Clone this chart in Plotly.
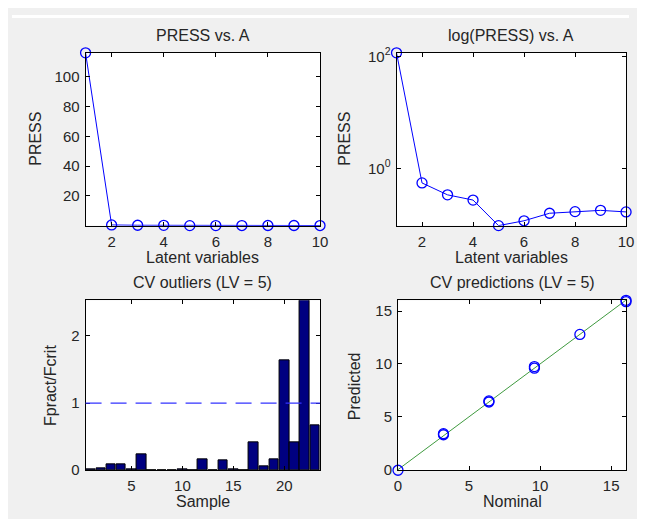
import plotly.graph_objs as go
import numpy as np

# --- data ---
latent_vars = [1, 2, 3, 4, 5, 6, 7, 8, 9, 10]
press = [116, 0.55, 0.337, 0.272, 0.095, 0.116, 0.158, 0.169, 0.178, 0.167]

samples = list(range(1, 24))
fratio = [0.01, 0.033, 0.09, 0.09, 0.01, 0.24, 0.005, 0.005, 0.005, 0.01, 0.005, 0.167,
          0.005, 0.148, 0.015, 0.005, 0.42, 0.057, 0.167, 1.643, 0.42, 2.53, 0.667]
fcrit_limit = 1.0

nominal = [0, 3.2, 3.2, 6.4, 6.4, 9.6, 9.6, 12.8, 16.05, 16.05]
predicted = [-0.06, 3.3, 3.4, 6.4, 6.5, 9.6, 9.75, 12.8, 16.02, 15.9]

# --- styling ---
# the page body keeps an 8px margin round the figure, so figure px = screen px - 8
OFF = 8
W, H = 629, 511
FONT = 'Liberation Sans, Arial, sans-serif'
TXT = '#262626'
BLUE = '#0000ff'
FS_TICK = 15
FS_TITLE = 16


def px_x(x):
    return (x - OFF) / W


def px_y(y):
    return 1 - (y - OFF) / H


def axis_style(**kw):
    d = dict(showline=True, linecolor='black', linewidth=1, mirror='allticks',
             ticks='inside', ticklen=4, tickcolor='black', showgrid=False,
             zeroline=False, ticklabelstandoff=2,
             tickfont=dict(family=FONT, size=FS_TICK, color=TXT))
    d.update(kw)
    return d


marker = dict(symbol='circle-open', size=10, color=BLUE, line=dict(width=1.3, color=BLUE))

trace_press = go.Scatter(x=latent_vars, y=press, mode='lines+markers',
                         line=dict(color=BLUE, width=1), marker=marker,
                         xaxis='x', yaxis='y', cliponaxis=False)
trace_logpress = go.Scatter(x=latent_vars, y=press, mode='lines+markers',
                            line=dict(color=BLUE, width=1), marker=marker,
                            xaxis='x2', yaxis='y2', cliponaxis=False)
trace_bars = go.Bar(x=samples, y=fratio, width=0.94,
                    marker=dict(color='#000080', line=dict(color='black', width=1)),
                    xaxis='x3', yaxis='y3')
lo, hi = min(nominal), max(nominal)
trace_ident = go.Scatter(x=[lo, hi], y=[lo, hi], mode='lines',
                         line=dict(color='#3f9a3f', width=1), xaxis='x4', yaxis='y4')
trace_pred = go.Scatter(x=nominal, y=predicted, mode='markers', marker=marker,
                        xaxis='x4', yaxis='y4', cliponaxis=False)

RIGHT = 634
TOP_ROW = [px_y(225), px_y(47)]
BOT_ROW = [px_y(477), px_y(302)]
layout = go.Layout(
    width=W, height=H,
    margin=dict(l=0, r=0, t=0, b=0),
    paper_bgcolor='#f0f0f0', plot_bgcolor='white',
    showlegend=False, bargap=0,
    font=dict(family=FONT, size=FS_TITLE, color=TXT),
    xaxis=axis_style(domain=[px_x(83), px_x(322)], range=[1, 10],
                     tickvals=[2, 4, 6, 8, 10], anchor='y'),
    yaxis=axis_style(domain=TOP_ROW, range=[min(press), max(press)],
                     tickvals=[20, 40, 60, 80, 100], anchor='x'),
    xaxis2=axis_style(domain=[px_x(400), px_x(RIGHT)], range=[1, 10],
                      tickvals=[2, 4, 6, 8, 10], anchor='y2'),
    yaxis2=axis_style(domain=TOP_ROW, type='log',
                      range=[np.log10(min(press)), np.log10(max(press))],
                      tickvals=[1, 100], ticktext=['10<sup>0</sup>', '10<sup>2</sup>'],
                      anchor='x2'),
    xaxis3=axis_style(domain=[px_x(83), px_x(322)], range=[0.5, 23.5],
                      tickvals=[5, 10, 15, 20], anchor='y3'),
    yaxis3=axis_style(domain=BOT_ROW, range=[0, max(fratio)],
                      tickvals=[0, 1, 2], anchor='x3'),
    xaxis4=axis_style(domain=[px_x(401.5), px_x(RIGHT)], range=[0, max(nominal)],
                      tickvals=[0, 5, 10, 15], anchor='y4'),
    yaxis4=axis_style(domain=BOT_ROW, range=[min(predicted), max(predicted)],
                      tickvals=[0, 5, 10, 15], anchor='x4'),
    shapes=[
        dict(type='rect', xref='paper', yref='paper', x0=0, x1=1, y0=px_y(11), y1=1,
             fillcolor='white', line=dict(width=0), layer='below'),
        dict(type='line', xref='x3 domain', yref='y3', x0=0, x1=1,
             y0=fcrit_limit, y1=fcrit_limit,
             line=dict(color='#3333ff', width=1.3, dash='16px,9px')),
    ],
)

texts = [
    ('PRESS vs. A', 202.5, 29, 0),
    ('log(PRESS) vs. A', 517, 29, 0),
    ('Latent variables', 202.5, 258, 0),
    ('Latent variables', 517, 258, 0),
    ('CV outliers (LV = 5)', 202.5, 284, 0),
    ('CV predictions (LV = 5)', 518, 284, 0),
    ('Sample', 202.5, 509, 0),
    ('Nominal', 518, 509, 0),
    ('PRESS', 32, 136, -90),
    ('PRESS', 347, 136, -90),
    ('Fpract/Fcrit', 48, 390, -90),
    ('Predicted', 357, 390, -90),
]
layout.annotations = [
    dict(text=t, x=px_x(x), y=px_y(y), xref='paper', yref='paper', showarrow=False,
         xanchor='center', yanchor='middle', textangle=a,
         font=dict(family=FONT, size=FS_TITLE, color=TXT))
    for t, x, y, a in texts
]

fig = go.Figure(data=[trace_press, trace_logpress, trace_bars, trace_ident, trace_pred],
                layout=layout)
fig.write_html("out.html")
